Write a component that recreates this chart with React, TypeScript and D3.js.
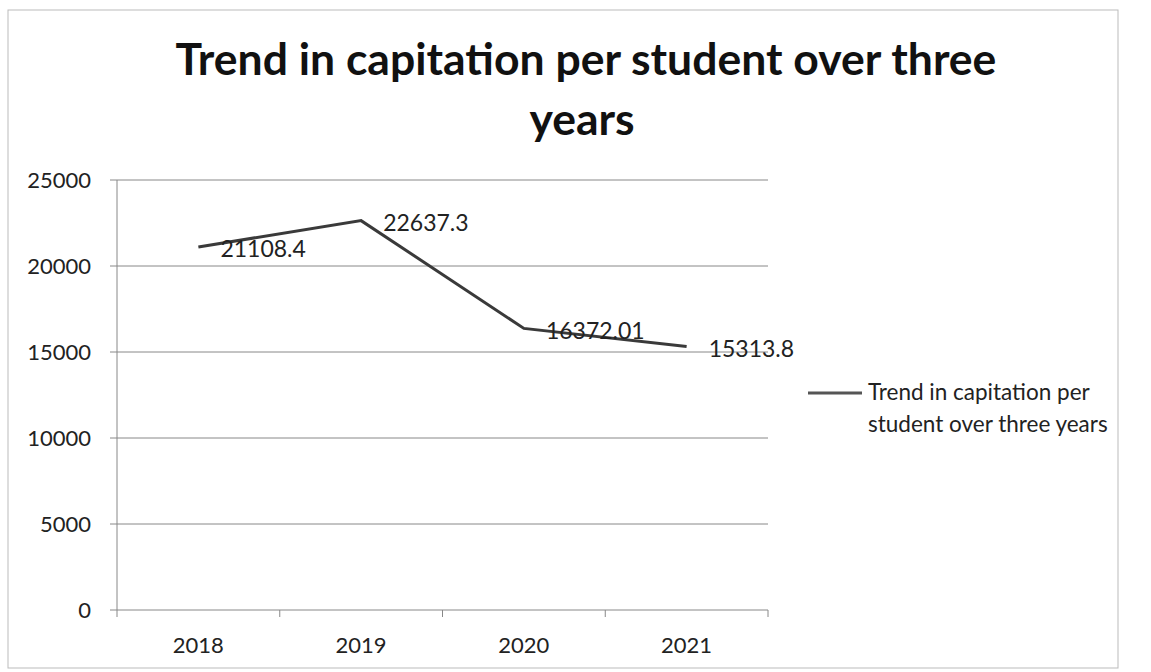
import React from "react";
import * as d3 from "d3";

const categories = ["2018", "2019", "2020", "2021"];
const values = [21108.4, 22637.3, 16372.01, 15313.8];
const valueLabels = ["21108.4", "22637.3", "16372.01", "15313.8"];
const yTicks = [0, 5000, 10000, 15000, 20000, 25000];
const seriesName = "Trend in capitation per student over three years";
const titleLines = ["Trend in capitation per student over three", "years"];
const legendLines = ["Trend in capitation per", "student over three years"];

const W = 1151;
const H = 672;
const FONT = "Lato, 'Open Sans', sans-serif";

export default function App() {
  const left = 117, right = 768, top = 180, bottom = 610;
  const x = d3.scaleBand<string>().domain(categories).range([left, right]).paddingInner(0).paddingOuter(0);
  const y = d3.scaleLinear().domain([0, 25000]).range([bottom, top]);
  const cx = (c: string) => (x(c) as number) + x.bandwidth() / 2;
  const line = d3.line<number>().x((_, i) => cx(categories[i])).y((d) => y(d));
  const boundaries = [...categories.map((c) => x(c) as number), right];

  return (
    <svg width={W} height={H} style={{ position: "absolute", left: 0, top: 0, background: "#fff" }} fontFamily={FONT}>
      <rect x={8} y={10} width={1110} height={658} fill="none" stroke="#bbb" strokeWidth={1} />
      <text textAnchor="middle" fontWeight="bold" fontSize={44.5} fill="#111">
        <tspan x={586} y={75}>{titleLines[0]}</tspan>
        <tspan x={582} y={135}>{titleLines[1]}</tspan>
      </text>
      {yTicks.map((t) => (
        <g key={t}>
          <line x1={left - 7} x2={right} y1={y(t)} y2={y(t)} stroke="#888" strokeWidth={1} />
          <text x={91} y={y(t)} dy="0.36em" textAnchor="end" fontSize={22} fill="#222">{t}</text>
        </g>
      ))}
      <line x1={left} x2={left} y1={top} y2={bottom} stroke="#888" strokeWidth={1} />
      {boundaries.map((b, i) => (
        <line key={i} x1={b} x2={b} y1={bottom} y2={bottom + 7} stroke="#888" strokeWidth={1} />
      ))}
      {categories.map((c) => (
        <text key={c} x={cx(c)} y={645} dy="0.36em" textAnchor="middle" fontSize={22} fill="#222">{c}</text>
      ))}
      <path d={line(values) as string} fill="none" stroke="#3a3a3a" strokeWidth={3} strokeLinejoin="miter" />
      {values.map((v, i) => (
        <text key={i} x={cx(categories[i]) + 22} y={y(v) + 2} dy="0.36em" fontSize={23} fill="#222">{valueLabels[i]}</text>
      ))}
      <g aria-label={seriesName}>
        <line x1={808} x2={862} y1={393} y2={393} stroke="#555" strokeWidth={3} />
        <text fontSize={22.5} fill="#222">
          <tspan x={868} y={400}>{legendLines[0]}</tspan>
          <tspan x={868} y={432}>{legendLines[1]}</tspan>
        </text>
      </g>
    </svg>
  );
}
